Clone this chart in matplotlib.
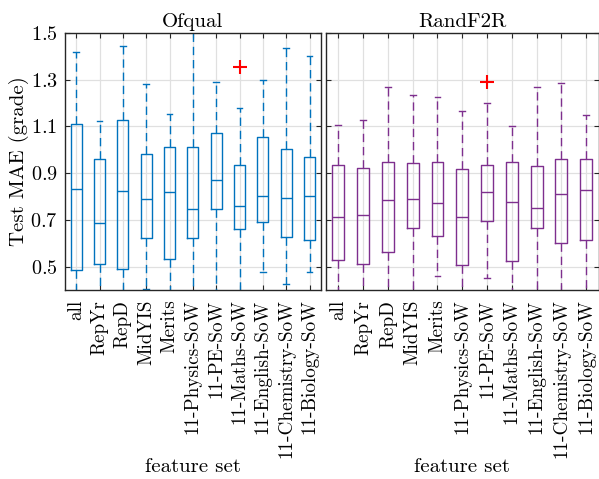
import matplotlib
matplotlib.use("Agg")
import matplotlib.pyplot as plt
import numpy as np

plt.rcParams["font.family"] = ["cmr10", "DejaVu Serif"]
plt.rcParams["axes.formatter.use_mathtext"] = True

labels = ["all", "RepYr", "RepD", "MidYIS", "Merits", "11-Physics-SoW",
          "11-PE-SoW", "11-Maths-SoW", "11-English-SoW", "11-Chemistry-SoW",
          "11-Biology-SoW"]

# Ofqual: whisker low / Q1 / median / Q3 / whisker high (lows below 0.4 are clipped)
ofq_lo = [0.35, 0.35, 0.35, 0.406, 0.35, 0.35, 0.39, 0.35, 0.476, 0.427, 0.476]
ofq_q1 = [0.486, 0.510, 0.489, 0.624, 0.533, 0.621, 0.747, 0.663, 0.690, 0.626, 0.613]
ofq_med = [0.834, 0.686, 0.823, 0.791, 0.819, 0.746, 0.869, 0.761, 0.801, 0.793, 0.804]
ofq_q3 = [1.111, 0.960, 1.129, 0.981, 1.014, 1.013, 1.071, 0.934, 1.053, 1.003, 0.971]
ofq_hi = [1.417, 1.123, 1.446, 1.283, 1.154, 1.55, 1.290, 1.180, 1.300, 1.434, 1.401]
ofq_out = [[], [], [], [], [], [], [], [1.354], [], [], []]

# RandF2R
rf_lo = [0.35, 0.35, 0.35, 0.35, 0.459, 0.35, 0.453, 0.35, 0.35, 0.35, 0.35]
rf_q1 = [0.529, 0.510, 0.564, 0.664, 0.631, 0.507, 0.694, 0.523, 0.666, 0.601, 0.614]
rf_med = [0.714, 0.720, 0.786, 0.791, 0.773, 0.714, 0.820, 0.777, 0.749, 0.810, 0.827]
rf_q3 = [0.934, 0.921, 0.946, 0.943, 0.950, 0.917, 0.933, 0.950, 0.929, 0.959, 0.959]
rf_hi = [1.107, 1.129, 1.271, 1.233, 1.224, 1.167, 1.200, 1.103, 1.267, 1.286, 1.150]
rf_out = [[], [], [], [], [], [], [1.290], [], [], [], []]

yticks = [0.5, 0.7, 0.9, 1.1, 1.3, 1.5]


def make_stats(lo, q1, med, q3, hi, out):
    stats = []
    for i in range(len(labels)):
        stats.append({"whislo": lo[i], "q1": q1[i], "med": med[i], "q3": q3[i],
                      "whishi": hi[i], "fliers": out[i], "label": labels[i]})
    return stats


def draw_panel(ax, stats, color, title):
    ax.bxp(stats, positions=np.arange(1, len(labels) + 1), widths=0.48,
           boxprops=dict(color=color, lw=1.0),
           medianprops=dict(color=color, lw=1.0),
           whiskerprops=dict(color=color, lw=1.0, linestyle=(0, (6, 3.5))),
           capprops=dict(color=color, lw=1.0),
           capwidths=0.24,
           flierprops=dict(marker="+", markeredgecolor="red", markersize=10,
                           markeredgewidth=1.5, linestyle="none"))
    ax.set_xlim(0.5, len(labels) + 0.5)
    ax.set_ylim(0.4, 1.5)
    ax.set_yticks(yticks)
    ax.set_xticks(np.arange(1, len(labels) + 1))
    ax.set_xticklabels(labels, rotation=90, fontsize=13.8)
    ax.grid(True, color="#e0e0e0", lw=0.9)
    ax.set_axisbelow(True)
    ax.tick_params(axis="both", direction="in", top=True, right=True, length=3.5,
                   color="#262626")
    ax.tick_params(axis="x", pad=7)
    ax.tick_params(axis="y", labelsize=14.5, pad=5)
    for s in ax.spines.values():
        s.set_color("#262626")
        s.set_linewidth(1.0)
    ax.set_title(title, fontsize=15, pad=4)
    ax.set_xlabel("feature set", fontsize=15, va="center")
    ax.xaxis.set_label_coords(0.5, -0.69)


fig = plt.figure(figsize=(5.99, 4.79), dpi=100)
ax1 = fig.add_axes([64.5 / 599, 1 - 290 / 479, 256.7 / 599, 257 / 479])
ax2 = fig.add_axes([326 / 599, 1 - 290 / 479, 272.5 / 599, 257 / 479])

draw_panel(ax1, make_stats(ofq_lo, ofq_q1, ofq_med, ofq_q3, ofq_hi, ofq_out),
           "#0072BD", "Ofqual")
draw_panel(ax2, make_stats(rf_lo, rf_q1, rf_med, rf_q3, rf_hi, rf_out),
           "#7E2F8E", "RandF2R")
ax2.set_yticklabels([])
ax1.set_ylabel("Test MAE (grade)", fontsize=15, labelpad=1)

fig.savefig("out.png", dpi=100)
